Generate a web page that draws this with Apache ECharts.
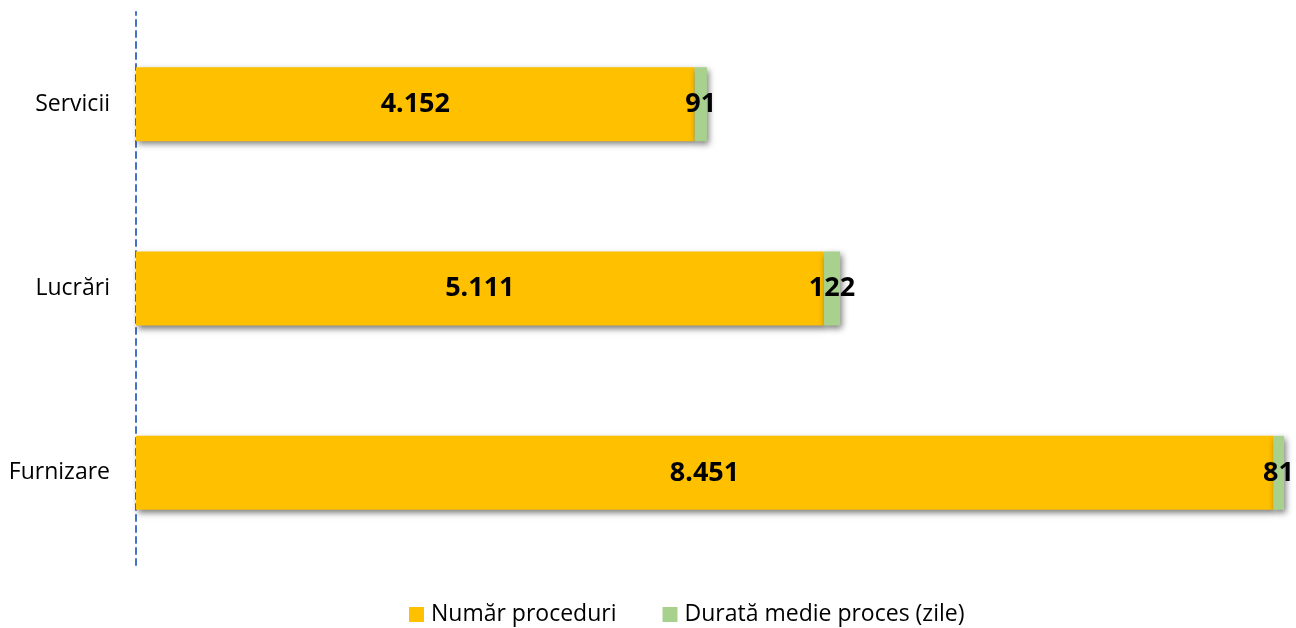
<!DOCTYPE html>
<html><head><meta charset="utf-8">
<script src="https://cdn.jsdelivr.net/npm/echarts@6/dist/echarts.min.js"></script>
<style>html,body{margin:0;padding:0;background:#fff}#c{width:1296px;height:628px}</style>
</head><body><div id="c"></div>
<script>
const categories = ['Furnizare', 'Lucrări', 'Servicii'];
const numarProceduri = [8451, 5111, 4152];
const durataMedie = [81, 122, 91];
const seriesNames = ['Număr proceduri', 'Durată medie proces (zile)'];

const fmt = v => v.toLocaleString('de-DE');
const chart = echarts.init(document.getElementById('c'));
const shadow = {shadowColor: 'rgba(0,0,0,0.5)', shadowBlur: 6, shadowOffsetX: 2, shadowOffsetY: 3};
const lbl = {show: true, position: 'inside', formatter: p => fmt(p.value),
  fontFamily: 'Noto Sans', fontWeight: 'bold', fontSize: 27, color: '#000'};
chart.setOption({
  animation: false,
  grid: {left: 136, top: 12, width: 1148, height: 553},
  legend: {
    bottom: -3, left: 404, icon: 'rect', itemWidth: 15, itemHeight: 15, itemGap: 46,
    textStyle: {fontFamily: 'Open Sans', fontSize: 23, color: '#000', padding: [0, 0, 0, 2]},
    data: seriesNames
  },
  xAxis: {type: 'value', min: 0, max: 8532, show: false},
  yAxis: {
    type: 'category', data: categories,
    axisLine: {show: true, lineStyle: {color: '#4472C4', type: [6, 5], width: 2}},
    axisTick: {show: false},
    axisLabel: {fontFamily: 'Open Sans', fontSize: 23, color: '#000', margin: 26}
  },
  series: [
    {name: seriesNames[0], type: 'bar', stack: 's', barWidth: 74, data: numarProceduri,
     itemStyle: Object.assign({color: '#FFC000'}, shadow), label: lbl},
    {name: seriesNames[1], type: 'bar', stack: 's', barWidth: 74, data: durataMedie,
     itemStyle: Object.assign({color: '#A9D18E'}, shadow), label: lbl}
  ]
});
</script></body></html>
